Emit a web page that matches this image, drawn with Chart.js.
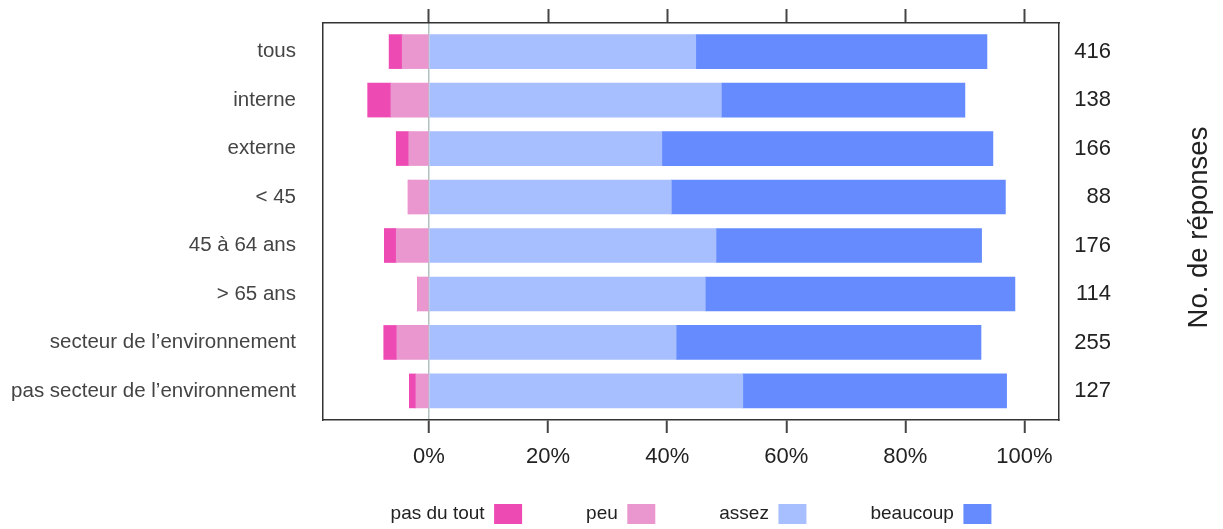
<!DOCTYPE html>
<html>
<head>
<meta charset="utf-8">
<script src="https://cdn.jsdelivr.net/npm/chart.js@4"></script>
<style>
  body { margin: 0; background: #fff; }
  #wrap { width: 1223px; height: 529px; }
</style>
</head>
<body>
<div id="wrap"><canvas id="likertChart"></canvas></div>
<script>
const categories = ["tous", "interne", "externe", "< 45", "45 à 64 ans", "> 65 ans",
  "secteur de l\u2019environnement", "pas secteur de l\u2019environnement"];
const pasDuTout = [2.2, 3.9, 2.1, 0, 2.0, 0, 2.2, 1.1];
const peu = [4.5, 6.4, 3.4, 3.5, 5.5, 1.9, 5.4, 2.2];
const assez = [44.8, 49.1, 39.1, 40.7, 48.2, 46.4, 41.5, 52.7];
const beaucoup = [48.9, 40.9, 55.6, 56.1, 44.6, 52.0, 51.2, 44.3];
const responses = [416, 138, 166, 88, 176, 114, 255, 127];
const xTicks = [0, 20, 40, 60, 80, 100];

// legend is drawn right-to-left, so this order ends up reversed on screen
const legendOrder = ["beaucoup", "assez", "peu", "pas du tout"];

function points(values, sign) {
  return values.map((v, i) => ({ x: sign * v, y: i }));
}

function rowTicks(axis) {
  axis.ticks = categories.map((c, i) => ({ value: i }));
}
function pctTicks(axis) {
  axis.ticks = xTicks.map((v) => ({ value: v }));
}
function fixWidth(w) {
  return (axis) => {
    axis.width = w;
    axis.paddingTop = 0;
    axis.paddingBottom = 0;
  };
}
function fixHeight(h) {
  return (axis) => {
    axis.height = h;
    axis.paddingLeft = 0;
    axis.paddingRight = 0;
  };
}

// right-hand title, reads bottom to top
const sideTitle = {
  id: "sideTitle",
  afterLayout(chart) {
    // keep the % labels from being clipped by the short bottom axis
    const x = chart.scales.x;
    x.bottom = x.top + 70;
  },
  afterDraw(chart) {
    const { ctx, chartArea } = chart;
    ctx.save();
    ctx.translate(1199, (chartArea.top + chartArea.bottom) / 2 + 6);
    ctx.rotate(-Math.PI / 2);
    ctx.font = "27.5px 'Liberation Sans', Arial, sans-serif";
    ctx.fillStyle = "#222";
    ctx.textAlign = "center";
    ctx.textBaseline = "middle";
    ctx.fillText("No. de réponses", 0, 0);
    ctx.restore();
  },
};

const font = "'Liberation Sans', Arial, sans-serif";
const border = { display: true, color: "#333", width: 1.5 };

new Chart(document.getElementById("likertChart"), {
  type: "bar",
  data: {
    datasets: [
      { label: "peu", data: points(peu, -1), backgroundColor: "#EA97D0" },
      { label: "pas du tout", data: points(pasDuTout, -1), backgroundColor: "#EE4AB4" },
      { label: "assez", data: points(assez, 1), backgroundColor: "#A8BFFF" },
      { label: "beaucoup", data: points(beaucoup, 1), backgroundColor: "#658BFF" },
    ],
  },
  options: {
    indexAxis: "y",
    responsive: true,
    maintainAspectRatio: false,
    animation: false,
    barThickness: 34,
    layout: { padding: { left: 0, right: 112, top: 0, bottom: -5 } },
    plugins: {
      tooltip: { enabled: false },
      legend: {
        position: "bottom",
        fullSize: false,
        rtl: true,
        labels: {
          font: { family: font, size: 19 },
          color: "#222",
          boxWidth: 28,
          boxHeight: 20,
          padding: 64,
          sort: (a, b) => legendOrder.indexOf(a.text) - legendOrder.indexOf(b.text),
        },
      },
    },
    scales: {
      x: {
        type: "linear",
        position: "bottom",
        stacked: true,
        min: -17.8,
        max: 105.8,
        afterBuildTicks: pctTicks,
        afterFit: fixHeight(20),
        ticks: {
          callback: (v) => v + "%",
          font: { family: font, size: 22 },
          color: "#222",
          padding: 11,
          maxRotation: 0,
          autoSkip: false,
        },
        grid: {
          color: (c) => (c.tick && c.tick.value === 0 ? "#b4c2bf" : "rgba(0,0,0,0)"),
          lineWidth: 1.5,
          tickColor: "#444",
          tickWidth: 2,
          tickLength: 13,
        },
        border: border,
      },
      xTop: {
        type: "linear",
        position: "top",
        min: -17.8,
        max: 105.8,
        afterBuildTicks: pctTicks,
        afterFit: fixHeight(23),
        ticks: { display: false },
        grid: { drawOnChartArea: false, tickColor: "#444", tickWidth: 2, tickLength: 14 },
        border: border,
      },
      y: {
        type: "linear",
        position: "left",
        stacked: true,
        reverse: true,
        offset: false,
        min: -0.59,
        max: 7.6,
        afterBuildTicks: rowTicks,
        afterFit: fixWidth(323),
        ticks: {
          callback: (v) => categories[v],
          font: { family: font, size: 20.5 },
          color: "#444",
          padding: 27,
        },
        grid: { drawOnChartArea: false, drawTicks: false, offset: false },
        border: border,
      },
      yRight: {
        type: "linear",
        position: "right",
        reverse: true,
        offset: false,
        min: -0.59,
        max: 7.6,
        afterBuildTicks: rowTicks,
        afterFit: fixWidth(52),
        ticks: {
          callback: (v) => String(responses[v]),
          font: { family: font, size: 22 },
          color: "#222",
          padding: 14,
          crossAlign: "far",
        },
        grid: { drawOnChartArea: false, drawTicks: false },
        border: border,
      },
    },
  },
  plugins: [sideTitle],
});
</script>
</body>
</html>
